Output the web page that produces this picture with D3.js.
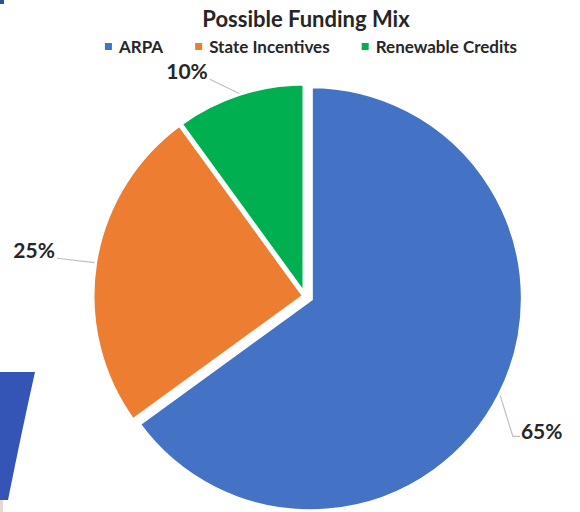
<!DOCTYPE html>
<html>
<head>
<meta charset="utf-8">
<script src="https://cdn.jsdelivr.net/npm/d3@7"></script>
<style>
  body { margin: 0; background: #fff; }
  svg { display: block; font-family: Lato, "Open Sans", sans-serif; }
</style>
</head>
<body>
<div class="chart"></div>
<script>
// Data
const categories = ["ARPA", "State Incentives", "Renewable Credits"];
const shares = [65, 25, 10];
const colors = ["#4472C4", "#ED7D31", "#00B050"];

const width = 580;
const height = 512;
const cx = 305, cy = 296;
const radius = 213;

const svg = d3.select(".chart")
    .append("svg")
    .attr("width", width)
    .attr("height", height);

// slide decorations behind the chart
svg.append("rect")
    .attr("x", 0).attr("y", 0)
    .attr("width", 4).attr("height", 4)
    .style("fill", "#2f4f9e");
svg.append("path")
    .attr("d", "M0,372 L35,372 Q22,430 8,500 L0,500 Z")
    .style("fill", "#3455b5");
svg.append("rect")
    .attr("x", 0).attr("y", 500)
    .attr("width", 3).attr("height", 12)
    .style("fill", "#e6d9cf");

// Title
svg.append("text")
    .attr("x", 306)
    .attr("y", 27)
    .attr("text-anchor", "middle")
    .style("font-size", "22px")
    .style("font-weight", "bold")
    .style("fill", "#262626")
    .text("Possible Funding Mix");

// Legend
const legend = svg.append("g");
const gap = 32;
let lx = 0;
categories.forEach((c, i) => {
    const item = legend.append("g").attr("transform", `translate(${lx},0)`);
    item.append("rect")
        .attr("x", 0).attr("y", -10)
        .attr("width", 7).attr("height", 7)
        .style("fill", colors[i]);
    const t = item.append("text")
        .attr("x", 14)
        .attr("y", 0)
        .style("font-size", "17px")
        .style("font-weight", "bold")
        .style("fill", "#262626")
        .text(c);
    lx += 14 + t.node().getComputedTextLength() + gap;
});
const legendW = lx - gap;
legend.attr("transform", `translate(${311 - legendW / 2},53)`);

// Pie
const pie = d3.pie().sort(null).value((d) => d);
const arcs = pie(shares);
const arc = d3.arc().innerRadius(0).outerRadius(radius);
const explode = [6, 0, 0];

const g = svg.append("g").attr("transform", `translate(${cx},${cy})`);

const polar = (a, r) => [Math.sin(a) * r, -Math.cos(a) * r];

g.selectAll("path.slice")
    .data(arcs)
    .enter()
    .append("path")
    .attr("class", "slice")
    .attr("d", arc)
    .attr("transform", (d, i) => {
        const mid = (d.startAngle + d.endAngle) / 2;
        const p = polar(mid, explode[i]);
        return `translate(${p[0]},${p[1]})`;
    })
    .style("fill", (d, i) => colors[i])
    .style("stroke", "#fff")
    .style("stroke-width", 5);

// Data labels with leader lines
const labelNudge = [0.05, 0.01, -0.17]; // radians
const labelRadius = [272, 275, 254];

arcs.forEach((d, i) => {
    const mid = (d.startAngle + d.endAngle) / 2;
    const start = polar(mid, radius + explode[i]);
    const la = mid + labelNudge[i];
    const lp = polar(la, labelRadius[i]);
    const right = Math.sin(la) > 0;
    const end = right ? [lp[0] - 21, lp[1] + 5] : [lp[0] + 23, lp[1] + 8];
    const pts = right
        ? [start, [end[0] - 7, end[1]], end]
        : [start, end];
    g.append("path")
        .attr("d", d3.line()(pts))
        .style("fill", "none")
        .style("stroke", "#bfbfbf")
        .style("stroke-width", 1.2);
    g.append("text")
        .attr("x", right ? lp[0] - 20 : lp[0] + 21)
        .attr("y", lp[1])
        .attr("dy", "0.36em")
        .attr("text-anchor", right ? "start" : "end")
        .style("font-size", "21px")
        .style("font-weight", "bold")
        .style("fill", "#262626")
        .text(shares[i] + "%");
});
</script>
</body>
</html>
